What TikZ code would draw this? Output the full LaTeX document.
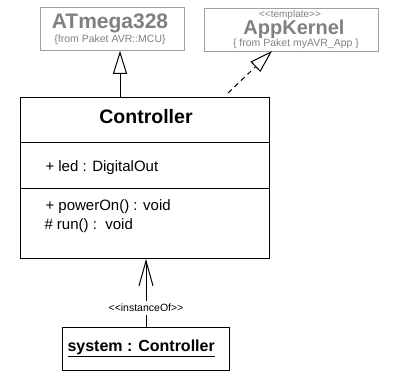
\documentclass[tikz,border=0pt]{standalone}
\usepackage{fontspec}
\setmainfont{Liberation Sans}
\usetikzlibrary{positioning,arrows.meta}
\definecolor{cGrayTxt}{HTML}{808080}
\definecolor{cGrayBox}{HTML}{A0A0A0}
\newcommand{\fs}[1]{\fontsize{#1}{#1}\selectfont}

\begin{document}
\begin{tikzpicture}[x=1pt,y=-1pt,line width=1pt,
    box/.style={draw,rectangle,inner sep=0pt,anchor=north west},
    gbox/.style={box,draw=cGrayBox,line width=0.8pt},
    gtitle/.style={text=cGrayTxt,font=\fs{20}\bfseries,inner sep=0pt},
    gnote/.style={text=cGrayTxt,font=\fs{10.5},inner sep=0pt},
    member/.style={anchor=west,font=\fs{15},inner sep=0pt},
    hollow/.style={-{Triangle[open,length=23pt,width=14pt]}}]
  \useasboundingbox (0,0) rectangle (394,384);
  % gray classes on top
  \node[gbox,minimum width=144,minimum height=43] (atm) at (40,7) {};
    \node[gtitle,font=\fs{21}\bfseries] (atmname) at (110,23.5) {ATmega328};
    \node[gnote] (atmpkg) at (110,40) {\{from Paket AVR::MCU\}};
  \node[gbox,minimum width=174,minimum height=43] (apk) at (204,8) {};
    \node[gnote,font=\fs{10}] (apkst) at (290,15) {<\kern0pt<template>\kern0pt>};
    \node[gtitle] (apkname) at (294,29) {AppKernel};
    \node[gnote] (apkpkg) at (296,44) {\{ from Paket myAVR\_App \}};
  % the class
  \node[box,minimum width=249,minimum height=161] (ctrl) at (20,97) {};
    \node[inner sep=0pt,font=\fs{19.5}\bfseries] (ctrlname) at (146,117) {Controller};
    \draw (20,142) -- (269,142);
    \draw (20,188) -- (269,188);
    \node[member] (led) at (45,168) {+ led : DigitalOut};
    \node[member] (pwr) at (45,207) {+ powerOn() : void};
    \node[member] (run) at (44,226) {\# run() :\ \ void};
  % the object
  \node[box,minimum width=167,minimum height=43] (inst) at (62,327) {};
    \node[anchor=west,inner sep=0pt,font=\fs{16}\bfseries] (instname) at (67,348)
      {\underline{system : Controller}};
  % connectors
  \coordinate (gen) at (120,97);
  \draw[hollow] (gen) -- (gen |- atm.south);
  \coordinate (real) at (228,93);
  \coordinate (realtip) at (272,51);
  \draw[hollow,dash pattern=on 5pt off 4pt] (real) -- (realtip);
  \draw[-{Straight Barb[length=25pt,width=14pt]}] (inst.north) --
    node[pos=0.28,fill=white,inner sep=3pt,font=\fs{10.5}] (instof)
      {<\kern0pt<instanceOf>\kern0pt>} (inst.north |- ctrl.south);
\end{tikzpicture}
\end{document}
